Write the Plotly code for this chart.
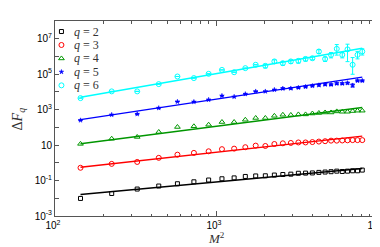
import plotly.graph_objects as go

# ---------------- data ----------------
M_sq = [144, 225, 324, 441, 576, 729, 900, 1089, 1296, 1521, 1764, 2025, 2304, 2601,
        2916, 3249, 3600, 3969, 4356, 4761, 5184, 5625, 6084, 6561, 7056, 7569, 8100]

dF_q2 = [0.0098, 0.0186, 0.0331, 0.049, 0.066, 0.085, 0.107, 0.126, 0.141, 0.170, 0.182,
         0.186, 0.204, 0.219, 0.229, 0.257, 0.263, 0.269, 0.288, 0.302, 0.316, 0.339,
         0.324, 0.339, 0.355, 0.355, 0.389]
dF_q3 = [0.525, 0.871, 1.12, 1.91, 2.88, 3.63, 4.47, 5.89, 6.31, 7.59, 9.33, 8.91, 11.5,
         12.6, 13.2, 14.1, 14.1, 14.8, 15.8, 16.6, 17.8, 17.8, 18.2, 18.6, 19.1, 19.1, 19.1]
dF_q4 = [11.7, 22.9, 28.8, 55.0, 105, 115, 141, 200, 200, 269, 339, 339, 447, 513, 501,
         537, 537, 603, 646, 692, 692, 794, 759, 759, 832, 871, 871]
dF_q5 = [251, 513, 562, 1230, 2820, 2750, 3630, 6030, 5370, 7590, 10700, 10700, 13200,
         15500, 15800, 17400, 19500, 21900, 24000, 26300, 25700, 29500, 29500, 31600,
         23400, 42700, 42700]
dF_q6 = [4470, 10700, 10700, 27500, 74100, 60300, 105000, 174000, 129000, 219000, 339000,
         295000, 525000, 417000, 525000, 562000, 724000, 794000, 1905000, 724000,
         1230000, 2690000, 1230000, 2510000, 339000, 1230000, 1905000]

err5_plus = [0, 0, 0, 0, 0, 0, 0, 0, 0, 0, 0, 0, 0, 1500, 1600, 1800, 2000, 2200, 2500,
             2800, 2800, 3200, 3200, 3500, 4500, 4500, 4500]
err5_minus = err5_plus
err6_plus = [0, 0, 0, 0, 0, 0, 0, 0, 0, 0, 0, 70000, 120000, 100000, 120000, 140000,
             180000, 150000, 500000, 200000, 400000, 2000000, 400000, 2400000, 530000,
             700000, 800000]
err6_minus = [0, 0, 0, 0, 0, 0, 0, 0, 0, 0, 0, 70000, 120000, 100000, 120000, 140000,
              180000, 150000, 450000, 200000, 400000, 1500000, 400000, 2000000, 240000,
              500000, 700000]

# power-law fits: log10(dF) = slope*log10(M^2) + intercept
q_labels = ["2", "3", "4", "5", "6"]
fit_slope = [0.84, 1.00, 1.17, 1.37, 1.58]
fit_intercept = [-3.60, -2.405, -1.451, -0.522, 0.285]

series = [dF_q2, dF_q3, dF_q4, dF_q5, dF_q6]
colors = ["#000000", "#ff0000", "#009600", "#0000ff", "#00ffff"]
symbols = ["square-open", "circle-open", "triangle-up-open", "star", "circle-open"]
sizes = [4, 5, 5, 3.5, 5]
line_w = [1, 1, 1, 0.5, 1]
errs = [None, None, None, (err5_plus, err5_minus), (err6_plus, err6_minus)]

fig = go.Figure()

for i in range(5):
    # fitted line
    xs = [M_sq[0], M_sq[-1]]
    ys = [10 ** (fit_intercept[i]) * x ** fit_slope[i] for x in xs]
    fig.add_trace(go.Scatter(x=xs, y=ys, mode="lines",
                             line=dict(color=colors[i], width=1.4),
                             showlegend=False, hoverinfo="skip"))
for i in range(5):
    ey = None
    if errs[i] is not None:
        ey = dict(type="data", symmetric=False, array=errs[i][0], arrayminus=errs[i][1],
                  color=colors[i], thickness=1, width=2)
    fig.add_trace(go.Scatter(x=M_sq, y=series[i], mode="markers",
                             marker=dict(symbol=symbols[i], size=sizes[i], color=colors[i],
                                         line=dict(width=line_w[i], color=colors[i])),
                             error_y=ey, showlegend=False))

# custom legend (compact, like the reference)
leg_x0 = 0.02
leg_y0 = 0.946
leg_dy = 0.069
for i in range(5):
    fig.add_trace(go.Scatter(x=[leg_x0], y=[leg_y0 - i * leg_dy], mode="markers",
                             xaxis="x2", yaxis="y2",
                             marker=dict(symbol=symbols[i], size=sizes[i], color=colors[i],
                                         line=dict(width=line_w[i], color=colors[i])),
                             showlegend=False, hoverinfo="skip"))
    fig.add_annotation(x=leg_x0 + 0.033, y=leg_y0 - i * leg_dy, xref="paper", yref="paper",
                       xanchor="left", yanchor="middle", showarrow=False,
                       text="<i>q</i> = " + q_labels[i],
                       font=dict(family="Liberation Serif", size=12, color="#333"))

# axis titles as annotations (precise placement)
fig.add_annotation(x=0.5, y=-0.115, xref="paper", yref="paper", xanchor="center",
                   yanchor="middle", showarrow=False, text="<i>M</i><sup>2</sup>",
                   borderpad=0,
                   font=dict(family="Liberation Serif", size=13, color="#333"))
fig.add_annotation(x=-0.112, y=0.5, xref="paper", yref="paper", xanchor="center",
                   yanchor="middle", showarrow=False, textangle=-90, borderpad=0,
                   text="Δ<i>F</i><sub><i>q</i></sub>",
                   font=dict(family="Liberation Serif", size=14, color="#333"))

y_tickvals = [10.0 ** k for k in range(-3, 9)]
y_ticktext = ["10<sup>-3</sup>", "", "10<sup>-1</sup>", "", "10", "", "10<sup>3</sup>", "",
              "10<sup>5</sup>", "", "10<sup>7</sup>", ""]
x_tickvals = [100, 1000, 10000]
x_ticktext = ["10<sup>2</sup>", "10<sup>3</sup>", "10<sup>4</sup>"]
x_minor = [m * 10 ** d for d in (2, 3) for m in range(2, 10)]

axcol = "#555555"
tickfont = dict(family="Liberation Sans", size=10, color="black")

fig.update_layout(
    width=380, height=247,
    margin=dict(l=47, r=11, t=13, b=39, autoexpand=False),
    paper_bgcolor="white", plot_bgcolor="white",
    showlegend=False,
    xaxis=dict(type="log", range=[2, 4], tickmode="array", tickvals=x_tickvals,
               ticktext=x_ticktext, ticks="inside", ticklen=5, tickwidth=1,
               tickcolor=axcol, showline=True, linecolor=axcol, linewidth=1,
               mirror="allticks", showgrid=False, zeroline=False, tickfont=tickfont,
               automargin=False, ticklabelshift=-2,
               minor=dict(tickmode="array", tickvals=x_minor, ticks="inside", ticklen=2.5,
                          tickcolor=axcol, showgrid=False)),
    yaxis=dict(type="log", range=[-3, 8], tickmode="array", tickvals=y_tickvals,
               ticktext=y_ticktext, ticks="inside", ticklen=4, tickwidth=1,
               tickcolor=axcol, showline=True, linecolor=axcol, linewidth=1,
               mirror="allticks", showgrid=False, zeroline=False, tickfont=tickfont,
               automargin=False),
    xaxis2=dict(overlaying="x", anchor="y2", range=[0, 1], visible=False, fixedrange=True),
    yaxis2=dict(overlaying="y", anchor="x2", range=[0, 1], visible=False, fixedrange=True),
)

fig.write_html("out.html")
